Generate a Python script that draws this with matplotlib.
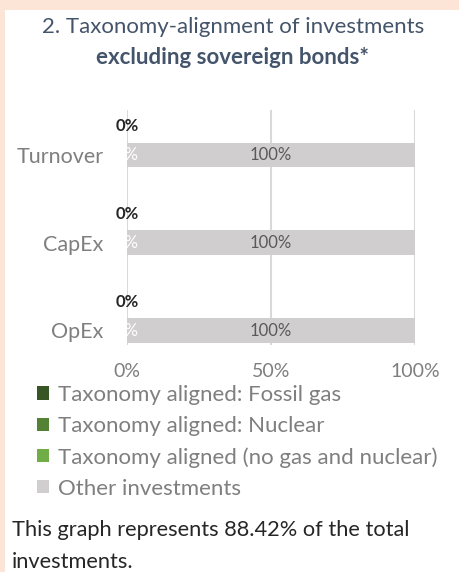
import matplotlib.pyplot as plt
from matplotlib.patches import Rectangle

categories = ["Turnover", "CapEx", "OpEx"]
fossil_gas = [0, 0, 0]
nuclear = [0, 0, 0]
aligned = [0, 0, 0]
other = [100, 100, 100]
aligned_total = [0, 0, 0]
xticks = [0, 50, 100]
xtick_labels = ["0%", "50%", "100%"]

series_names = ["Taxonomy aligned: Fossil gas", "Taxonomy aligned: Nuclear",
                "Taxonomy aligned (no gas and nuclear)", "Other investments"]
colors = ["#375623", "#548235", "#70AD47", "#D0CECE"]

plt.rcParams['font.family'] = ['Lato', 'DejaVu Sans']

W, H = 460, 572
fig = plt.figure(figsize=(W / 100, H / 100), dpi=100, facecolor="#FCE4D6")
fig.patches.append(Rectangle((5 / W, 0), 1, 1 - 10 / H, transform=fig.transFigure,
                             facecolor="white", edgecolor="none", zorder=-5))

ax = fig.add_axes([127 / W, 1 - 345 / H, (415 - 127) / W, (345 - 110) / H])
ax.set_facecolor("none")

y = list(range(len(categories)))
h = 0.28
left = [0, 0, 0]
handles = []
for vals, c, name in zip([fossil_gas, nuclear, aligned, other], colors, series_names):
    b = ax.barh(y, vals, height=h, left=left, color=c, label=name, zorder=2)
    handles.append(b)
    left = [l + v for l, v in zip(left, vals)]

for i in y:
    ax.text(aligned[i] / 2, i, "%d%%" % aligned[i], ha="center", va="center",
            color="white", fontsize=12, zorder=3)
    ax.text(aligned[i] + other[i] / 2, i, "%d%%" % other[i], ha="center", va="center",
            color="#595959", fontsize=12, zorder=3)
    ax.text(0, i - 0.33, "%d%%" % aligned_total[i], ha="center", va="center",
            color="#262626", fontsize=12, fontweight="bold", zorder=3)

ax.set_xlim(0, 100)
ax.set_ylim(2 + 14.5 / 87.75, -45 / 87.75)
ax.set_yticks(y)
ax.set_yticklabels(categories, fontsize=15.5, color="#7F7F7F")
ax.set_xticks(xticks)
ax.set_xticklabels(xtick_labels, fontsize=14, color="#7F7F7F")
ax.tick_params(axis="y", length=0, pad=17)
ax.tick_params(axis="x", length=0, pad=13)
for s in ax.spines.values():
    s.set_visible(False)
ax.grid(axis="x", color="#D9D9D9", linewidth=1.5, zorder=1)

fig.text(233 / W, 1 - 27 / H, "2. Taxonomy-alignment of investments", ha="center",
         va="center", fontsize=16, color="#44546A")
fig.text(233 / W, 1 - 58 / H, "excluding sovereign bonds*", ha="center", va="center",
         fontsize=16, fontweight="bold", color="#44546A")

fig.legend(handles=handles, loc="upper left", bbox_to_anchor=(28 / W, 1 - 376 / H),
           frameon=False, fontsize=16, labelcolor="#7F7F7F", handlelength=0.53,
           handleheight=0.53, handletextpad=0.4, labelspacing=0.5, borderaxespad=0)

fig.text(12 / W, 1 - 546 / H, "This graph represents 88.42% of the total\ninvestments.",
         ha="left", va="center", fontsize=15.7, color="#262626", linespacing=1.8)

fig.savefig("out.png", dpi=100, facecolor=fig.get_facecolor())
